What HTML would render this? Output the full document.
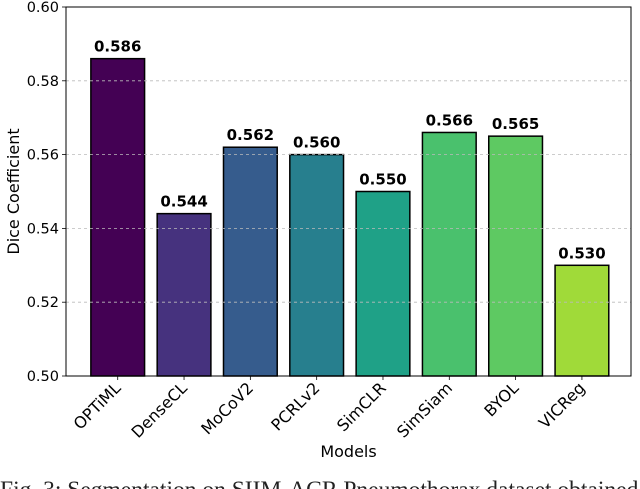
<!DOCTYPE html>
<html><head><meta charset="utf-8"><style>
body{margin:0;background:#fff;width:640px;height:489px;overflow:hidden}
svg{display:block;font-family:"DejaVu Sans","Liberation Sans",sans-serif}
</style></head><body>
<svg id="chart" width="640" height="489"></svg>
<script>
const categories=["OPTiML","DenseCL","MoCoV2","PCRLv2","SimCLR","SimSiam","BYOL","VICReg"];
const values=[0.586,0.544,0.562,0.560,0.550,0.566,0.565,0.530];
const labels=["0.586","0.544","0.562","0.560","0.550","0.566","0.565","0.530"];
const colors=["#440154","#46327e","#365c8d","#277f8e","#1fa187","#4ac16d","#5ec962","#a0da39"];
const yTicks=[0.50,0.52,0.54,0.56,0.58,0.60];
const yTickLabels=["0.50","0.52","0.54","0.56","0.58","0.60"];
const NS="http://www.w3.org/2000/svg";
const svg=document.getElementById('chart');
const L=66,R=631,T=7,B=376;
const y=v=>B-(v-0.5)/0.1*(B-T);
const step=(R-L)/(8+0.78+0.74-1);
const x=i=>L+(0.78+i)*step;
const bw=0.81*step;
function mk(t,a,txt){const e=document.createElementNS(NS,t);for(const k in a)e.setAttribute(k,a[k]);if(txt!==undefined)e.textContent=txt;svg.appendChild(e);return e;}
categories.forEach((c,i)=>{
 const r=mk('rect',{x:x(i)-bw/2,y:y(values[i]),width:bw,height:B-y(values[i]),fill:colors[i],stroke:'#000','stroke-width':1.5});
 
 
 const t=mk('text',{x:x(i),y:y(values[i])-7,'text-anchor':'middle','font-size':15,'font-weight':'bold',fill:'#000'},labels[i]);
 
 
 mk('line',{x1:x(i),x2:x(i),y1:B,y2:B+4,stroke:'#000','stroke-width':0.8});
 const xl=mk('text',{x:x(i)+4,y:B+13,'text-anchor':'end','font-size':16,fill:'#000',transform:`rotate(-45 ${x(i)+4} ${B+13})`},c);
 
 
});
yTicks.forEach((v,i)=>{
 if(i>0&&i<yTicks.length-1){const g=mk('line',{x1:L,x2:R,y1:y(v),y2:y(v),stroke:'#bbb','stroke-width':0.8,'stroke-dasharray':'3,3'});
 }
 mk('line',{x1:L-4,x2:L,y1:y(v),y2:y(v),stroke:'#000','stroke-width':0.8});
 const t=mk('text',{x:L-7,y:y(v)+5,'text-anchor':'end','font-size':14.5,fill:'#000'},yTickLabels[i]);
 
 
});
const ax=mk('rect',{x:L,y:T,width:R-L,height:B-T,fill:'none',stroke:'#000','stroke-width':1});

const xt=mk('text',{x:(L+R)/2,y:457,'text-anchor':'middle','font-size':16,fill:'#000'},'Models');

const yt=mk('text',{x:19,y:(T+B)/2,'text-anchor':'middle','font-size':16,fill:'#000',transform:`rotate(-90 19 ${(T+B)/2})`},'Dice Coefficient');

const cap=mk('text',{x:0,y:497,'font-size':23.5,fill:'#222','font-family':'Liberation Serif,serif'},'Fig. 3: Segmentation on SIIM-ACR Pneumothorax dataset obtained');

</script>
</body></html>
